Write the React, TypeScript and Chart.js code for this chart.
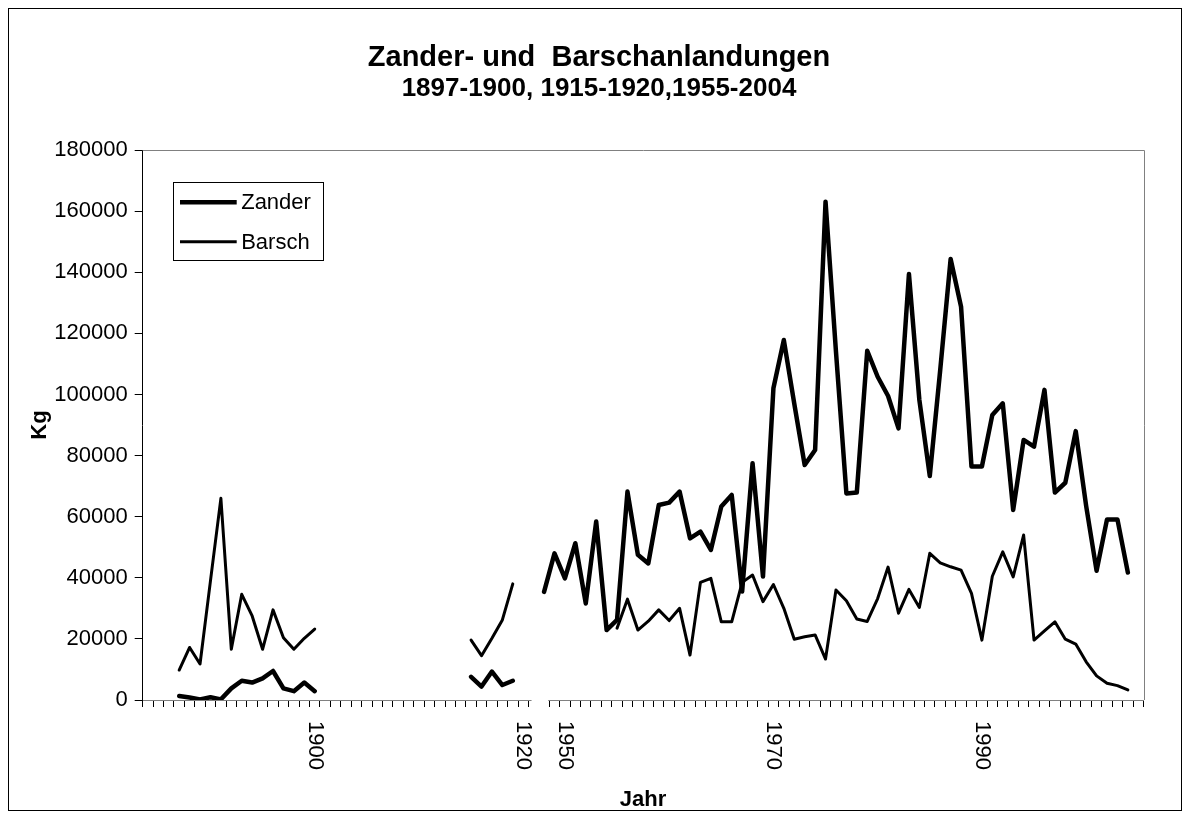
import React, { useEffect, useRef } from "react";
import { Chart, registerables } from "chart.js";

Chart.register(...registerables);

const FONT = "'Liberation Sans', Arial, sans-serif";

// 96 category slots of the (broken) category axis; only some carry a visible label
const categories: string[] = [
  "", "", "", "", "", "", "", "", "", "", "", "", "", "", "", "", "1900", "", "", "",
  "", "", "", "", "", "", "", "", "", "", "", "", "", "", "", "", "1920", "",
  "1948", "1949", "1950", "1951", "1952", "1953", "1954", "1955", "1956", "1957",
  "1958", "1959", "1960", "1961", "1962", "1963", "1964", "1965", "1966", "1967",
  "1968", "1969", "1970", "1971", "1972", "1973", "1974", "1975", "1976", "1977",
  "1978", "1979", "1980", "1981", "1982", "1983", "1984", "1985", "1986", "1987",
  "1988", "1989", "1990", "1991", "1992", "1993", "1994", "1995", "1996", "1997",
  "1998", "1999", "2000", "2001", "2002", "2003", "2004", "2005",
];

const tickLabels = ["1900", "1920", "1950", "1970", "1990"];

const seriesNames = ["Zander", "Barsch"];

const titleText = "Zander- und  Barschanlandungen";
const subtitleText = "1897-1900, 1915-1920,1955-2004";

const zander: (number | null)[] = [
  null, null, null,
  1300, 800, 200, 900, 200, 3800, 6300, 5700, 7100, 9500, 3800, 2900, 5700, 2900,
  null, null, null, null, null, null, null, null, null, null, null, null, null, null,
  7600, 4400, 9300, 4900, 6300,
  null, null,
  35400, 48000, 39800, 51300, 31600, 58400, 22900, 26200, 68200, 47500,
  44700, 63800, 64600, 68200, 52900, 55100, 49100, 63300, 67100, 35500,
  77500, 40400, 102000, 117800, 97000, 76900, 81800, 163100, 114000, 67600,
  67900, 114300, 105800, 99500, 88900, 139400, 98200, 73300, 108000, 144300,
  128700, 76400, 76400, 93300, 97100, 62200, 85100, 82900, 101500, 67900,
  71100, 88000, 63500, 42300, 59100, 59100, 41700,
  null,
];

const barsch: (number | null)[] = [
  null, null, null,
  9800, 17200, 11800, 39000, 66000, 16600, 34600, 27500, 16600, 29500, 20400, 16600, 20200, 23200,
  null, null, null, null, null, null, null, null, null, null, null, null, null, null,
  19600, 14500, 20200, 26200, 38000,
  null, null, null, null, null, null, null, null, null,
  23500, 33000, 22900, 25800, 29500, 26000, 30000, 14700, 38500, 39800,
  25600, 25600, 38500, 40900, 32200, 37800, 30000, 19900, 20700, 21300,
  13400, 36000, 32500, 26500, 25700, 33200, 43500, 28400, 36200, 30300,
  48000, 44900, 43600, 42500, 34900, 19600, 40500, 48500, 40300, 54000,
  19600, 22600, 25600, 19900, 18300, 12500, 7900, 5500, 4700, 3300,
  null,
];

const yMin = 0;
const yMax = 180000;
const yStep = 20000;

const decorPlugin = {
  id: "excelDecor",
  afterDraw(chart: any) {
    const { ctx, chartArea: ca, scales, width } = chart;
    const xs = scales.x;
    ctx.save();

    // titles (centred on the whole chart)
    ctx.fillStyle = "#000";
    ctx.textAlign = "center";
    ctx.textBaseline = "middle";
    ctx.font = `bold 29px ${FONT}`;
    ctx.fillText(titleText, width / 2 + 4, 49);
    ctx.font = `bold 26px ${FONT}`;
    ctx.fillText(subtitleText, width / 2 + 4, 80);

    // plot area border (top and right)
    ctx.strokeStyle = "#808080";
    ctx.lineWidth = 1;
    ctx.beginPath();
    ctx.moveTo(ca.left, Math.round(ca.top) + 0.5);
    ctx.lineTo(Math.round(ca.right) + 0.5, Math.round(ca.top) + 0.5);
    ctx.lineTo(Math.round(ca.right) + 0.5, ca.bottom);
    ctx.stroke();

    // break in the category axis
    const gl = xs.getPixelForValue(36.8);
    const gr = xs.getPixelForValue(38.4);
    ctx.fillStyle = "#ffffff";
    ctx.fillRect(gl, ca.bottom - 1, gr - gl, 11);

    // x tick labels, rotated clockwise
    ctx.fillStyle = "#000";
    ctx.font = `22px ${FONT}`;
    ctx.textAlign = "left";
    ctx.textBaseline = "middle";
    categories.forEach((c, i) => {
      if (!tickLabels.includes(c)) return;
      const px = xs.getPixelForValue(i);
      ctx.save();
      ctx.translate(px, ca.bottom + 21);
      ctx.rotate(Math.PI / 2);
      ctx.fillText(c, 0, 0);
      ctx.restore();
    });

    // axis titles
    ctx.font = `bold 22px ${FONT}`;
    ctx.textAlign = "center";
    ctx.textBaseline = "middle";
    ctx.fillText("Jahr", (ca.left + ca.right) / 2, ca.bottom + 100);
    ctx.save();
    ctx.translate(31, (ca.top + ca.bottom) / 2);
    ctx.rotate(-Math.PI / 2);
    ctx.fillText("Kg", 0, 0);
    ctx.restore();

    // legend
    const bx = ca.left + 30;
    const by = ca.top + 32.3;
    ctx.strokeStyle = "#000";
    ctx.lineWidth = 1;
    ctx.strokeRect(Math.round(bx) + 0.5, Math.round(by) + 0.5, 150, 78);
    ctx.font = `22px ${FONT}`;
    ctx.textAlign = "left";
    chart.data.datasets.forEach((ds: any, i: number) => {
      const ly = ca.top + 52.3 + i * 39.4;
      ctx.beginPath();
      ctx.lineWidth = ds.borderWidth;
      ctx.lineCap = "butt";
      ctx.moveTo(ca.left + 37.3, ly);
      ctx.lineTo(ca.left + 94, ly);
      ctx.stroke();
      ctx.fillText(ds.label, ca.left + 98.5, ly + 1);
    });

    ctx.restore();
  },
};

export default function App() {
  const ref = useRef<HTMLCanvasElement>(null);

  useEffect(() => {
    if (!ref.current) return;
    const chart = new Chart(ref.current, {
      type: "line",
      data: {
        labels: categories,
        datasets: [
          {
            label: seriesNames[0],
            data: zander,
            borderColor: "#000",
            backgroundColor: "#000",
            borderWidth: 4.5,
            pointRadius: 0,
            pointHoverRadius: 0,
            tension: 0,
            spanGaps: false,
            fill: false,
            borderJoinStyle: "round",
            borderCapStyle: "round",
          },
          {
            label: seriesNames[1],
            data: barsch,
            borderColor: "#000",
            backgroundColor: "#000",
            borderWidth: 3,
            pointRadius: 0,
            pointHoverRadius: 0,
            tension: 0,
            spanGaps: false,
            fill: false,
            borderJoinStyle: "round",
            borderCapStyle: "round",
          },
        ],
      },
      options: {
        responsive: false,
        animation: false,
        devicePixelRatio: 1,
        layout: { padding: { left: 0, right: 37.5, top: 141, bottom: 0 } },
        plugins: {
          legend: { display: false },
          tooltip: { enabled: false },
          title: { display: false },
          subtitle: { display: false },
        },
        scales: {
          x: {
            type: "category",
            offset: true,
            grid: {
              offset: true,
              drawOnChartArea: false,
              drawTicks: true,
              tickLength: 7,
              color: "#000",
              lineWidth: 1,
            },
            border: { display: true, color: "#808080", width: 1 },
            ticks: { display: false, autoSkip: false },
            afterFit: (s: any) => {
              s.height = 110;
            },
          },
          y: {
            min: yMin,
            max: yMax,
            ticks: {
              stepSize: yStep,
              color: "#000",
              padding: 7,
              font: { family: FONT, size: 22 },
              callback: (v: any) => String(v),
            },
            grid: {
              drawOnChartArea: false,
              drawTicks: true,
              tickLength: 8,
              color: "#000",
              lineWidth: 1,
            },
            border: { display: true, color: "#000", width: 1 },
            afterFit: (s: any) => {
              s.width = 133.7;
            },
          },
        },
      },
      plugins: [decorPlugin],
    } as any);
    return () => chart.destroy();
  }, []);

  return (
    <div
      style={{
        width: 1174,
        height: 803,
        border: "1px solid #000",
        boxSizing: "border-box",
      }}
    >
      <canvas ref={ref} width={1172} height={801} style={{ display: "block" }} />
    </div>
  );
}
